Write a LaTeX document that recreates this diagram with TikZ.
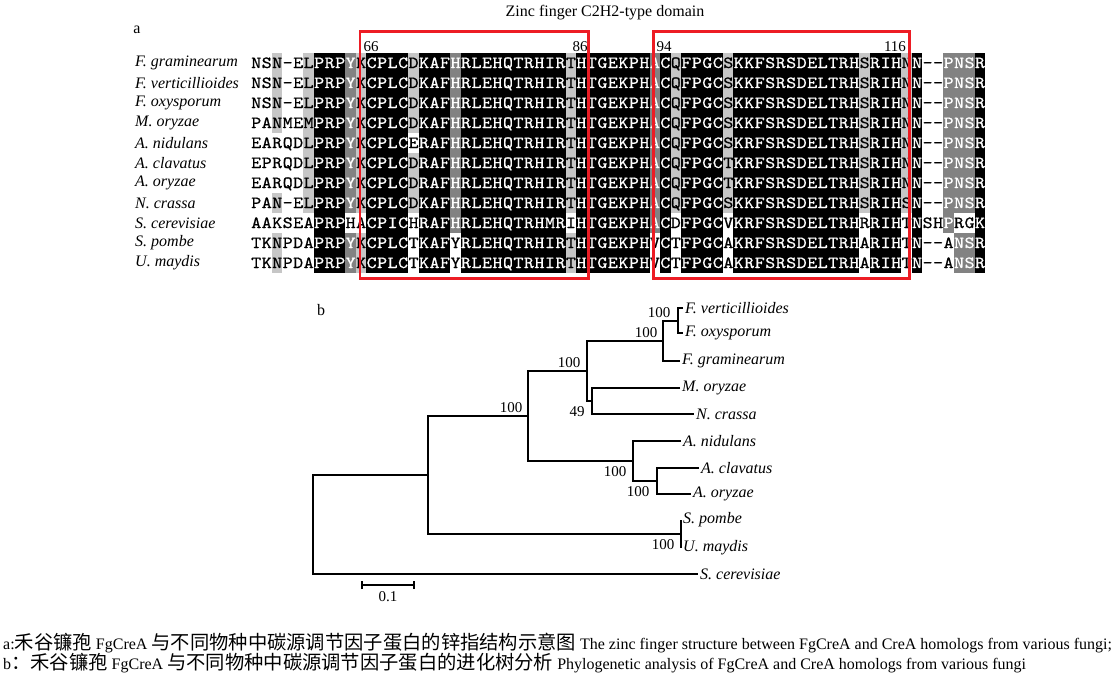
\documentclass[tikz,border=0pt]{standalone}
\usepackage{fontspec}
\setmainfont{Liberation Serif}
\newfontfamily\cjk{Noto Sans CJK SC}
\newfontfamily\seqfont{lmmono10-regular.otf}[FakeStretch=1.12, FakeBold=0.8]
\usepackage{xstring}
\usetikzlibrary{positioning}

\newcommand{\zh}[1]{{\cjk\fontsize{19.3}{19.3}\selectfont #1}}

\definecolor{boxred}{RGB}{237,28,36}
\definecolor{shK}{RGB}{0,0,0}
\definecolor{shD}{RGB}{130,130,130}
\definecolor{shL}{RGB}{198,198,198}
\definecolor{shW}{RGB}{255,255,255}
\colorlet{txK}{white}
\colorlet{txD}{white}
\colorlet{txL}{black}
\colorlet{txW}{black}

\tikzset{
	res/.style={inner sep=0pt, minimum width=10.7pt, minimum height=20.3pt, text height=10pt, text depth=0pt, font=\seqfont\fontsize{17}{17}\selectfont},
	species/.style={anchor=west, inner sep=0pt, font=\fontsize{16}{16}\selectfont\itshape},
	taxon/.style={anchor=west, inner sep=2pt, font=\fontsize{16}{16}\selectfont\itshape},
	boot/.style={inner sep=0pt, font=\fontsize{15}{15}\selectfont},
	branch/.style={line width=2pt},
	domainbox/.style={draw=boxred, line width=2.2pt},
	caption/.style={anchor=west, inner sep=0pt, font=\fontsize{16}{16}\selectfont},
}

\begin{document}
\begin{tikzpicture}[x=1pt, y=-1pt]
			\fill[white] (0,0) rectangle (1119,677);
			\useasboundingbox (0,0) rectangle (1119,677);
			
			\node[boot, font=\fontsize{16}{16}\selectfont] (title) at (605, 13) {Zinc finger C2H2-type domain};
			\node[boot, font=\fontsize{16}{16}\selectfont] (parta) at (137, 30) {a};
			\node[boot, font=\fontsize{16}{16}\selectfont] (partb) at (321, 310) {b};
			
			\foreach \seq/\shade/\name [count=\r from 0] in {
				NSN-ELPRPYKCPLCDKAFHRLEHQTRHIRTHTGEKPHACQFPGCSKKFSRSDELTRHSRIHNN--PNSR/WWLWWLKKKDLKKKKLKKKDKKKKKKKKKKLKKKKKKKDKLKKKKLKKKKKKKKKKKKLKKKLKWWDDDK/F. graminearum,
				NSN-ELPRPYKCPLCDKAFHRLEHQTRHIRTHTGEKPHACQFPGCSKKFSRSDELTRHSRIHNN--PNSR/WWLWWLKKKDLKKKKLKKKDKKKKKKKKKKLKKKKKKKDKLKKKKLKKKKKKKKKKKKLKKKLKWWDDDK/F. verticillioides,
				NSN-ELPRPYKCPLCDKAFHRLEHQTRHIRTHTGEKPHACQFPGCSKKFSRSDELTRHSRIHNN--PNSR/WWLWWLKKKDLKKKKLKKKDKKKKKKKKKKLKKKKKKKDKLKKKKLKKKKKKKKKKKKLKKKLKWWDDDK/F. oxysporum,
				PANMEMPRPYKCPLCDKAFHRLEHQTRHIRTHTGEKPHACQFPGCSKKFSRSDELTRHSRIHNN--PNSR/WWLWWLKKKDLKKKKLKKKDKKKKKKKKKKLKKKKKKKDKLKKKKLKKKKKKKKKKKKLKKKLKWWDDDK/M. oryzae,
				EARQDLPRPYKCPLCERAFHRLEHQTRHIRTHTGEKPHACQFPGCSKRFSRSDELTRHSRIHNN--PNSR/WWWWWLKKKDLKKKKWKKKDKKKKKKKKKKLKKKKKKKDKLKKKKLKKKKKKKKKKKKLKKKLKWWDDDK/A. nidulans,
				EPRQDLPRPYKCPLCDRAFHRLEHQTRHIRTHTGEKPHACQFPGCTKRFSRSDELTRHSRIHNN--PNSR/WWWWWLKKKDLKKKKLKKKDKKKKKKKKKKLKKKKKKKDKLKKKKLKKKKKKKKKKKKLKKKLKWWDDDK/A. clavatus,
				EARQDLPRPYKCPLCDRAFHRLEHQTRHIRTHTGEKPHACQFPGCTKRFSRSDELTRHSRIHNN--PNSR/WWWWWLKKKDLKKKKLKKKDKKKKKKKKKKLKKKKKKKDKLKKKKLKKKKKKKKKKKKLKKKLKWWDDDK/A. oryzae,
				PAN-ELPRPYKCPLCDKAFHRLEHQTRHIRTHTGEKPHACQFPGCSKKFSRSDELTRHSRIHSN--PNSR/WWLWWLKKKDLKKKKLKKKDKKKKKKKKKKLKKKKKKKDKLKKKKLKKKKKKKKKKKKLKKKLKWWDDDK/N. crassa,
				AAKSEAPRPHACPICHRAFHRLEHQTRHMRIHTGEKPHACDFPGCVKRFSRSDELTRHRRIHTNSHPRGK/WWWWWWKKKWWKKKKWKKKDKKKKKKKKKKWKKKKKKKDKWKKKKWKKKKKKKKKKKKWKKKWKWWDWWK/S. cerevisiae,
				TKNPDAPRPYKCPLCTKAFYRLEHQTRHIRTHTGEKPHVCTFPGCAKRFSRSDELTRHARIHTN--ANSR/WWLWWWKKKDLKKKKWKKKWKKKKKKKKKKLKKKKKKKWKWKKKKWKKKKKKKKKKKKWKKKWKWWWDDK/S. pombe,
				TKNPDAPRPYKCPLCTKAFYRLEHQTRHIRTHTGEKPHVCTFPGCAKRFSRSDELTRHARIHTN--ANSR/WWLWWWKKKDLKKKKWKKKWKKKKKKKKKKLKKKKKKKWKWKKKKWKKKKKKKKKKKKWKKKWKWWWDDK/U. maydis}{
				\node[species] (sp\r) at (135, 63+20*\r) {\name};
				\foreach \cc in {1,...,70}{
					\StrChar{\seq}{\cc}[\aa]
					\StrChar{\shade}{\cc}[\ss]
					\node[res, fill=sh\ss, text=tx\ss] (r\r-\cc) at (245.755+10.49*\cc, 63+20*\r) {\aa};
				}
			}
			
			\draw[domainbox] (360, 31.5) rectangle (588.5, 278.5);
			\draw[domainbox] (653.5, 31.5) rectangle (909.5, 278.5);
			\node[boot] (p66) at (371, 47) {66};
			\node[boot] (p86) at (580, 47) {86};
			\node[boot] (p94) at (664, 47) {94};
			\node[boot] (p116) at (895, 47) {116};
			
			% tree
			\coordinate (r0) at (313, 524.5);
			\coordinate (n1) at (428, 475);
			\coordinate (n2) at (528, 416);
			\coordinate (n3) at (587, 371);
			\coordinate (nF) at (663, 341);
			\coordinate (nFvo) at (678, 320.5);
			\coordinate (nMN) at (592, 401);
			\coordinate (nA) at (633, 461);
			\coordinate (nAco) at (657, 481);
			\coordinate (nSP) at (681, 534);
			
			\node[taxon] (fver) at (683, 308) {F. verticillioides};
			\node[taxon] (foxy) at (683, 333) {F. oxysporum};
			\node[taxon] (fgra) at (680, 361) {F. graminearum};
			\node[taxon] (mory) at (680, 388) {M. oryzae};
			\node[taxon] (ncra) at (694, 414) {N. crassa};
			\node[taxon] (anid) at (681, 441) {A. nidulans};
			\node[taxon] (acla) at (699, 468) {A. clavatus};
			\node[taxon] (aory) at (691, 494) {A. oryzae};
			\node[taxon] (spom) at (681, 520) {S. pombe};
			\node[taxon] (umay) at (681, 548) {U. maydis};
			\node[taxon] (scer) at (698, 574) {S. cerevisiae};
			
			\draw[branch] (fver.west) -| (nFvo) |- (foxy.west);
			\draw[branch] (nFvo) -| (nF) |- (fgra.west);
			\draw[branch] (mory.west) -| (nMN) |- (ncra.west);
			\draw[branch] (nF) -| (n3) |- (nMN);
			\draw[branch] (acla.west) -| (nAco) |- (aory.west);
			\draw[branch] (anid.west) -| (nA) |- (nAco);
			\draw[branch] (n3) -| (n2) |- (nA);
			\draw[branch] (spom.west) -| (nSP) |- (umay.west);
			\draw[branch] (n2) -| (n1) |- (nSP);
			\draw[branch] (n1) -| (r0) |- (scer.west);
			
			\node[boot] (b1) at (659, 313) {100};
			\node[boot] (b2) at (646, 333) {100};
			\node[boot] (b3) at (569, 363) {100};
			\node[boot] (b4) at (577, 412) {49};
			\node[boot] (b5) at (511, 408) {100};
			\node[boot] (b6) at (615, 472) {100};
			\node[boot] (b7) at (638, 492) {100};
			\node[boot] (b8) at (663, 545) {100};
			
			\coordinate (sb1) at (362, 585);
			\coordinate (sb2) at (414, 585);
			\draw[branch] (sb1) -- (sb2);
			\draw[branch] ([yshift=-4pt]sb1) -- ([yshift=4pt]sb1);
			\draw[branch] ([yshift=-4pt]sb2) -- ([yshift=4pt]sb2);
			\node[boot] (sblabel) at (388, 597) {0.1};
			
			\node[caption] (capa) at (3, 643) {a:\zh{禾谷镰孢} FgCreA \zh{与不同物种中碳源调节因子蛋白的锌指结构示意图} The zinc finger structure between FgCreA and CreA homologs from various fungi;};
			\node[caption] (capb) at (3, 663) {b\zh{：禾谷镰孢} FgCreA \zh{与不同物种中碳源调节因子蛋白的进化树分析} Phylogenetic analysis of FgCreA and CreA homologs from various fungi};
		\end{tikzpicture}
\end{document}
